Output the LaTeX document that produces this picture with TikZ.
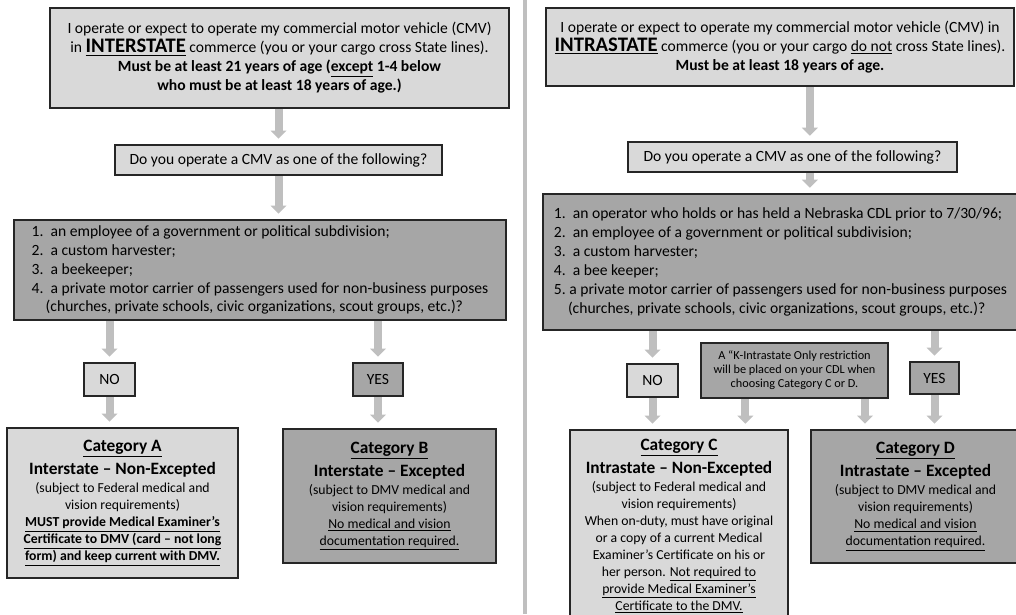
\documentclass[tikz,border=0pt]{standalone}
\usepackage{fontspec}
\setmainfont{Carlito}
\usetikzlibrary{arrows.meta}

\definecolor{boxlight}{RGB}{217,217,217}
\definecolor{boxdark}{RGB}{166,166,166}
\definecolor{arrowgray}{RGB}{191,191,191}
\definecolor{edgegray}{RGB}{38,38,38}

\tikzset{every picture/.style={line width=0.75pt}}
\tikzset{
  lightbox/.style={draw=edgegray, fill=boxlight, line width=1.5pt, inner sep=2pt, align=center},
  darkbox/.style={lightbox, fill=boxdark},
  flow/.style={draw=arrowgray, line width=6pt, -{Triangle[width=12pt,length=6pt,line width=0pt]}, shorten >=4pt},
  txtmain/.style={font=\fontsize{11.7}{14.2}\selectfont},
  txtcat/.style={font=\fontsize{10.3}{12.75}\selectfont},
}
\newcommand{\cattitle}[1]{{\fontsize{13}{15.5}\selectfont\textbf{#1}}}

\begin{document}
\begin{tikzpicture}[x=0.75pt,y=0.75pt,yscale=-1,xscale=1]
    \useasboundingbox (0,0) rectangle (1016,614);
    \clip (0,0) rectangle (1016,614);

    %Straight Lines (divider)
    \draw [arrowgray, line width=3pt] (525,0) -- (525,614);

    %%%%%%%% left column: interstate
    % Text Node
    \node [lightbox, txtmain, minimum width=344.25pt, minimum height=75pt] (topA) at (279.5,58)
      {I operate or expect to operate my commercial motor vehicle (CMV)\\
       in {\fontsize{15.5}{17}\selectfont\underline{\textbf{INTERSTATE}}} commerce (you or your cargo cross State lines).\\
       \textbf{Must be at least 21 years of age (\underline{except} 1-4 below}\\
       \textbf{who must be at least 18 years of age.)}};
    % Text Node
    \node [lightbox, txtmain, minimum width=245.25pt, minimum height=22.5pt] (askA) at (278.5,160)
      {Do you operate a CMV as one of the following?};
    % Text Node
    \node [darkbox, txtmain, align=left, minimum width=369pt, minimum height=75pt] (listA) at (260,270)
      {1.\ \ an employee of a government or political subdivision;\\
       2.\ \ a custom harvester;\\
       3.\ \ a beekeeper;\\
       4.\ \ a private motor carrier of passengers used for non-business purposes\\
       \hspace*{0.9em}(churches, private schools, civic organizations, scout groups, etc.)?};
    % Text Node
    \node [lightbox, txtmain, minimum width=38.25pt, minimum height=24.75pt] (noA) at (109.5,379.5) {NO};
    % Text Node
    \node [darkbox, txtmain, minimum width=37.5pt, minimum height=24.75pt] (yesA) at (378,379.5) {YES};
    % Text Node
    \node [lightbox, txtcat, minimum width=173.25pt, minimum height=112.5pt] (catA) at (122.5,503)
      {\cattitle{\underline{Category A}}\\[3pt]
       \cattitle{Interstate -- Non-Excepted}\\[1pt]
       (subject to Federal medical and\\
       vision requirements)\\
       \textbf{\underline{MUST provide Medical Examiner’s}}\\
       \textbf{\underline{Certificate to DMV (card -- not long}}\\
       \textbf{\underline{form) and keep current with DMV.}}};
    % Text Node
    \node [darkbox, txtcat, minimum width=159.75pt, minimum height=100.5pt] (catB) at (389.5,496)
      {\cattitle{\underline{Category B}}\\[3pt]
       \cattitle{Interstate -- Excepted}\\[1pt]
       (subject to DMV medical and\\
       vision requirements)\\
       \underline{No medical and vision}\\
       \underline{documentation required.}};

    %Straight Lines
    \draw [flow] (askA.north |- topA.south) -- (askA.north);
    \draw [flow] (askA.south) -- (askA.south |- listA.north);
    \draw [flow] (noA.north |- listA.south) -- (noA.north);
    \draw [flow] (yesA.north |- listA.south) -- (yesA.north);
    \draw [flow] (noA.south) -- (noA.south |- catA.north);
    \draw [flow] (yesA.south) -- (yesA.south |- catB.north);

    %%%%%%%% right column: intrastate
    % Text Node
    \node [lightbox, txtmain, minimum width=351pt, minimum height=58.5pt] (topB) at (780,47)
      {I operate or expect to operate my commercial motor vehicle (CMV) in\\
       {\fontsize{15.5}{17}\selectfont\underline{\textbf{INTRASTATE}}} commerce (you or your cargo \underline{do not} cross State lines).\\
       \textbf{Must be at least 18 years of age.}};
    % Text Node
    \node [lightbox, txtmain, minimum width=246.75pt, minimum height=22.5pt] (askB) at (792.5,157)
      {Do you operate a CMV as one of the following?};
    % Text Node
    \node [darkbox, txtmain, align=left, minimum width=356.25pt, minimum height=102pt] (listB) at (780.5,262)
      {1.\ \ an operator who holds or has held a Nebraska CDL prior to 7/30/96;\\
       2.\ \ an employee of a government or political subdivision;\\
       3.\ \ a custom harvester;\\
       4.\ \ a bee keeper;\\
       5.\ a private motor carrier of passengers used for non-business purposes\\
       \hspace*{0.9em}(churches, private schools, civic organizations, scout groups, etc.)?};
    % Text Node
    \node [lightbox, txtmain, minimum width=38.25pt, minimum height=24.75pt] (noB) at (652.5,380.5) {NO};
    % Text Node
    \node [darkbox, font=\fontsize{9.2}{10.5}\selectfont, minimum width=140.25pt, minimum height=41.25pt] (noteB) at (794.5,370.5)
      {A “K-Intrastate Only restriction\\
       will be placed on your CDL when\\
       choosing Category C or D.};
    % Text Node
    \node [darkbox, txtmain, minimum width=36.75pt, minimum height=24pt] (yesB) at (934.5,378) {YES};
    % Text Node
    \node [lightbox, txtcat, minimum width=163.5pt, minimum height=144pt] (catC) at (679,526)
      {\cattitle{\underline{Category C}}\\[3pt]
       \cattitle{Intrastate -- Non-Excepted}\\[1pt]
       (subject to Federal medical and\\
       vision requirements)\\
       When on-duty, must have original\\
       or a copy of a current Medical\\
       Examiner’s Certificate on his or\\
       her person. \underline{Not required to}\\
       \underline{provide Medical Examiner’s}\\
       \underline{Certificate to the DMV.}};
    % Text Node
    \node [darkbox, txtcat, minimum width=156.75pt, minimum height=99.75pt] (catD) at (915.5,496.5)
      {\cattitle{\underline{Category D}}\\[3pt]
       \cattitle{Intrastate -- Excepted}\\[1pt]
       (subject to DMV medical and\\
       vision requirements)\\
       \underline{No medical and vision}\\
       \underline{documentation required.}};

    %Straight Lines
    \draw [flow] ([xshift=13pt]askB.north |- topB.south) -- ([xshift=13pt]askB.north);
    \draw [flow] ([xshift=13pt]askB.south) -- ([xshift=13pt]askB.south |- listB.north);
    \draw [flow] (noB.north |- listB.south) -- (noB.north);
    \draw [flow] (yesB.north |- listB.south) -- (yesB.north);
    \draw [flow] (noB.south) -- (noB.south |- catC.north);
    \draw [flow] ([xshift=34pt]noteB.south west) -- ([xshift=34pt]noteB.south west |- catC.north);
    \draw [flow] ([xshift=-18pt]noteB.south east) -- ([xshift=-18pt]noteB.south east |- catD.north);
    \draw [flow] (yesB.south) -- (yesB.south |- catD.north);

\end{tikzpicture}
\end{document}
